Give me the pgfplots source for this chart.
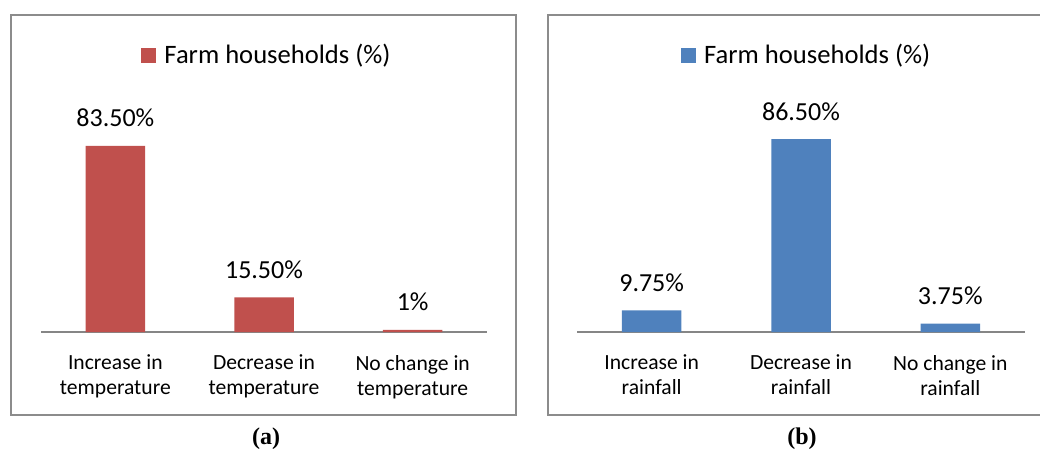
\documentclass[border=0pt]{standalone}
\usepackage{fontspec}
\setmainfont{Carlito}
\newfontfamily\capfont{Liberation Serif}
\usepackage{pgfplots}
\pgfplotsset{compat=1.18}

\definecolor{exred}{RGB}{192,80,77}
\definecolor{exblue}{RGB}{79,129,189}
\definecolor{boxgray}{RGB}{140,140,140}
\definecolor{axgray}{RGB}{134,134,134}

% 1 px of the reference = 0.5pt
\pgfplotsset{
  farm/.style={
    ybar, scale only axis,
    height=111.5pt,
    ymin=0, ymax=100,
    xmin=-0.5, xmax=2.5,
    bar width=29.75pt,
    axis y line=none,
    axis x line*=bottom,
    x axis line style={axgray, line width=1pt, -},
    xtick=data, major tick length=0pt,
    xticklabel style={align=center, font=\fontsize{10.8}{12.5}\selectfont, yshift=-8pt},
    point meta=explicit symbolic,
    nodes near coords={\pgfplotspointmeta},
    nodes near coords style={font=\fontsize{13}{15}\selectfont, anchor=base, yshift=9.5pt, text=black},
    clip=false,
    legend style={draw=none, fill=none, font=\fontsize{13.3}{15}\selectfont, anchor=center},
    legend image code/.code={\fill[##1] (0pt,-3.75pt) rectangle (7.5pt,3.75pt);},
  },
}

\begin{document}
\begin{tikzpicture}
\useasboundingbox (0,0) rectangle (520pt,226pt);

% panel frames
\draw[boxgray, line width=1pt] (5.5pt,18.5pt) rectangle (258pt,218.5pt);
\draw[boxgray, line width=1pt] (522pt,218.5pt) -- (274pt,218.5pt) -- (274pt,18.5pt) -- (522pt,18.5pt);

\begin{axis}[farm, at={(20.5pt,60pt)}, anchor=south west, width=223pt,
  xticklabels={{Increase in\\temperature},{Decrease in\\temperature},{No change in\\temperature}},
  legend style={at={(rel axis cs:0.509,1.242)}}]
\addplot[fill=exred, draw=none] coordinates {(0,83.5) [83.50\%] (1,15.5) [15.50\%] (2,1) [1\%]};
\addlegendentry{\hspace{2pt}Farm households (\%)}
\end{axis}

\begin{axis}[farm, at={(288.5pt,60pt)}, anchor=south west, width=224pt,
  xticklabels={{Increase in\\rainfall},{Decrease in\\rainfall},{No change in\\rainfall}},
  legend style={at={(rel axis cs:0.515,1.242)}}]
\addplot[fill=exblue, draw=none] coordinates {(0,9.75) [9.75\%] (1,86.5) [86.50\%] (2,3.75) [3.75\%]};
\addlegendentry{\hspace{2pt}Farm households (\%)}
\end{axis}

\node[font=\capfont\bfseries\fontsize{12}{14}\selectfont] at (133pt,6.5pt) {(a)};
\node[font=\capfont\bfseries\fontsize{12}{14}\selectfont] at (401pt,6.5pt) {(b)};
\end{tikzpicture}
\end{document}
